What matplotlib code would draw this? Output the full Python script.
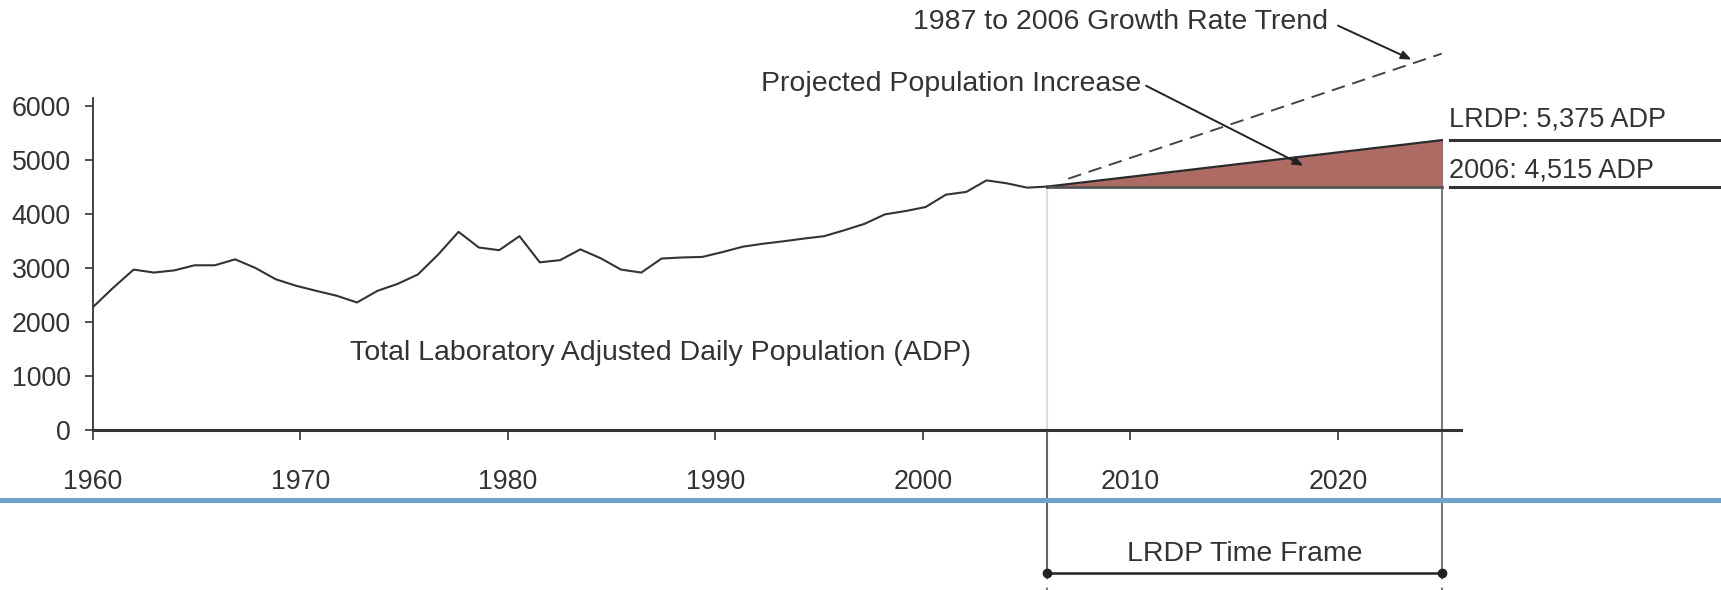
import matplotlib
matplotlib.use('Agg')
import matplotlib.pyplot as plt
from matplotlib.lines import Line2D
import numpy as np

plt.rcParams['font.family'] = ['Liberation Sans', 'DejaVu Sans']

# data
adp = [2280, 2640, 2975, 2920, 2960, 3055, 3055, 3165, 3005, 2795, 2675, 2580,
       2490, 2365, 2580, 2710, 2885, 3255, 3675, 3385, 3335, 3595, 3110, 3150,
       3350, 3185, 2975, 2920, 3180, 3200, 3210, 3300, 3400, 3455, 3500, 3550,
       3595, 3705, 3825, 4000, 4060, 4135, 4365, 4415, 4630, 4575, 4495, 4515]
adp_years = np.linspace(1960, 2006, len(adp))
proj_years = [2006, 2025]
proj_values = [4515, 5375]
trend_years = [2007, 2025]
trend_values = [4660, 6980]
xticks = [1960, 1970, 1980, 1990, 2000, 2010, 2020]
yticks = [0, 1000, 2000, 3000, 4000, 5000, 6000]

ink = '#333333'
fill_col = '#ad6b63'

fig = plt.figure(figsize=(17.21, 5.90), dpi=100)
ax = fig.add_axes([93 / 1721, 160 / 590, 1368 / 1721, 430 / 590])
ax.set_xlim(1960, 2025.93)
ax.set_ylim(0, 7975)

# main series
ax.plot(adp_years, adp, color=ink, lw=1.5, zorder=4)

# projected increase wedge
ax.fill_between(proj_years, [proj_values[0]] * 2, proj_values, color=fill_col, lw=0, zorder=2)
ax.plot(proj_years, proj_values, color='#2a2a2a', lw=1.6, zorder=3)
ax.plot(proj_years, [proj_values[0]] * 2, color='#555555', lw=2, zorder=3)

# 1987-2006 growth trend
ax.plot(trend_years, trend_values, color='#444444', lw=1.4, dashes=(7, 4), zorder=3, clip_on=False)

# LRDP time frame guides below the axis
frame_y = -2648
bottom_y = -2967
ax.plot([2006, 2006], [0, proj_values[0]], color='#dcdcdc', lw=1.5, zorder=1)
ax.plot([2006, 2006], [frame_y, 0], color='#666666', lw=1.5, clip_on=False, zorder=1)
ax.plot([2025, 2025], [frame_y, proj_values[1]], color='#777777', lw=1.5, clip_on=False, zorder=1)
for x in proj_years:
    ax.plot([x, x], [frame_y, bottom_y], color='#777777', lw=1.5, dashes=(3, 4), clip_on=False)
ax.plot(proj_years, [frame_y] * 2, color='#222222', lw=1.8, marker='o', ms=6, clip_on=False)
ax.text(np.mean(proj_years), frame_y + 340, 'LRDP Time Frame', ha='center', va='center',
        fontsize=20.5, color=ink)

# right side labels, underlined at their levels
ax.text(2025.35, 5750, 'LRDP: 5,375 ADP', ha='left', va='center', fontsize=19.5, color=ink)
ax.text(2025.35, 4822, '2006: 4,515 ADP', ha='left', va='center', fontsize=19.5, color=ink)
for v in proj_values:
    ax.plot([2025.4, 2040], [v, v], color='#333333', lw=2.2, clip_on=False)

# callouts
arrow = dict(arrowstyle='-|>,head_length=0.6,head_width=0.25', color='#222222',
             lw=1.4, shrinkA=0, shrinkB=0)
ax.text(2019.5, 7567, '1987 to 2006 Growth Rate Trend', ha='right', va='center', fontsize=20.5, color=ink)
ax.annotate('', xy=(2023.54, 6871), xytext=(2020.0, 7500), arrowprops=arrow)
ax.text(2010.53, 6408, 'Projected Population Increase', ha='right', va='center', fontsize=20.5, color=ink)
ax.annotate('', xy=(2018.33, 4904), xytext=(2010.75, 6385), arrowprops=arrow)
ax.text(1987.37, 1428, 'Total Laboratory Adjusted Daily Population (ADP)', ha='center', va='center',
        fontsize=20.5, color=ink)

# axes styling
for s in ['top', 'right']:
    ax.spines[s].set_visible(False)
ax.spines['left'].set_bounds(0, 6150)
ax.spines['left'].set_color(ink)
ax.spines['left'].set_linewidth(1.3)
ax.spines['bottom'].set_color(ink)
ax.spines['bottom'].set_linewidth(2.2)
ax.set_xticks(xticks)
ax.set_xticklabels([str(t) for t in xticks])
ax.set_yticks(yticks)
ax.set_yticklabels([str(t) for t in yticks])
ax.tick_params(axis='x', direction='out', length=7, width=1.2, pad=21, labelsize=19.3,
               colors=ink)
ax.tick_params(axis='y', direction='out', length=6, width=1.2, pad=10, labelsize=19.3,
               colors=ink)

# blue rule across the page
fig.add_artist(Line2D([0, 1], [90 / 590, 90 / 590], transform=fig.transFigure,
                      color='#6fa3cc', lw=3.6, zorder=5))

plt.savefig('out.png', dpi=100)
